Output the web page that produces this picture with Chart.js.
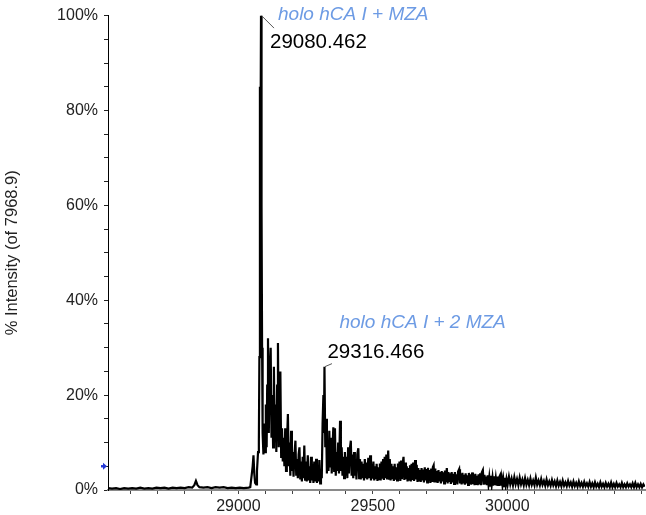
<!DOCTYPE html>
<html>
<head>
<meta charset="utf-8">
<script src="https://cdn.jsdelivr.net/npm/chart.js@4.4.1/dist/chart.umd.min.js"></script>
<style>
  html, body { margin: 0; padding: 0; background: #fff; }
  #wrap { width: 646px; height: 515px; }
</style>
</head>
<body>
<div id="wrap"><canvas id="spectrum" width="646" height="515"></canvas></div>
<script>
"use strict";

// ------------------------------------------------------- //
// Spectrum data  [m/z, % intensity]
// ------------------------------------------------------- //
var baselineRegion = [
    [28515,0.4],[28530,0.3],[28545,0.4],[28560,0.2],[28575,0.4],[28590,0.3],[28605,0.4],[28620,0.3],
    [28635,0.5],[28650,0.3],[28665,0.4],[28680,0.3],[28695,0.5],[28710,0.4],[28725,0.5],[28740,0.3],
    [28755,0.5],[28770,0.4],[28785,0.5],[28800,0.4],[28815,0.6],[28828,0.5],[28836,1.0],[28842,1.9],
    [28848,1.0],[28855,0.6],[28870,0.5],[28885,0.6],[28900,0.4],[28915,0.6],[28930,0.5],[28945,0.6],
    [28960,0.4],[28975,0.5],[28990,0.4],[29005,0.5],[29020,0.4],[29038,0.5]
];

var mainPeakRegion = [
    [29044,0.6],[29049,3.0],[29053,5.0],[29056,7.3],[29059,3.5],[29062,1.5],[29066,1.2],[29069,4.0],
    [29073,8.0],[29076,10.0],[29078,28],[29080,85],[29082,70],[29084,100],[29086,60],[29088,30],[29090,12]
];

var forestRegion = [
    [29093,7.5],[29096,14],[29099,8],[29102,18],[29105,9],[29107,22],[29110,32],[29113,12],
    [29116,24],[29120,30],[29123,11],[29126,20],[29129,9],[29132,26],[29135,10],[29138,18],
    [29141,8],[29144,22],[29147,31],[29150,9],[29153,14],[29156,25],[29159,7],[29162,13],
    [29165,6],[29168,11],[29171,5],[29174,13],[29177,4],[29180,9],[29184,16],[29187,5],
    [29190,10],[29193,3],[29196,12.5],[29199,4],[29202,8],[29205,2.8],[29208,7],[29212,10.4],
    [29215,3],[29218,6.5],[29221,2.5],[29224,7.5],[29227,9],[29230,2.2],[29233,6],[29236,1.8],
    [29239,7],[29242,2.5],[29245,9.4],[29248,2.2],[29251,6],[29254,1.8],[29258,7.3],[29261,2],
    [29264,5],[29267,1.5],[29270,7],[29273,2],[29276,5.5],[29279,1.5],[29282,6],[29285,1.8],
    [29289,6.6],[29292,1.5],[29295,5],[29298,1.8],[29301,6.3],[29304,1.4],[29307,4],[29310,2.5],
    [29313,14],[29316,20],[29318,12],[29320,26],[29323,9],[29326,15]
];

var tailRegion = [
    [29329,3.5],[29332,10],[29335,4],[29338,12.5],[29341,5],[29344,11],[29347,3.5],[29350,9],
    [29353,13.2],[29356,4],[29359,13],[29362,3],[29365,8],[29368,4],[29371,10],[29374,3.5],
    [29378,14.6],[29381,4],[29384,9],[29387,3],[29390,7],[29393,2.5],[29396,8],[29399,3],
    [29402,7],[29405,2.5],[29408,9],[29411,3.5],[29414,8.5],[29418,10.4],[29421,3],[29424,7.5],
    [29427,2.5],[29430,8],[29433,3],[29436,6.5],[29439,2.2],[29442,7.5],[29446,8.8],[29449,2.5],
    [29452,6.5],[29455,2.2],[29458,6],[29461,2.5],[29464,5.5],[29467,2],[29470,6.5],[29473,2.5],
    [29476,5.8],[29479,2.2],[29483,6.8],[29486,2.5],[29490,7.3],[29493,2],[29496,5.5],[29499,2.4],
    [29502,6],[29505,2],[29508,5],[29511,2.3],[29514,5.5],[29517,1.9],[29520,4.8],[29523,2.3],
    [29526,5.6],[29529,2],[29532,6],[29535,2.4],[29538,6.5],[29541,2.1],[29544,7],[29547,2.5],
    [29550,7.5],[29553,2.2],[29557,8.3],[29560,2.4],[29563,6.5],[29566,2],[29569,5.5],[29572,2.3],
    [29575,5],[29578,1.9],[29581,5.5],[29584,2.2],[29587,4.8],[29590,2],[29593,5.6],[29596,2.3],
    [29599,6],[29602,1.9],[29605,6.2],[29608,2.3],[29611,5.6],[29614,7],[29617,2.1],[29620,5.8],
    [29623,2.3],[29626,5],[29629,1.8],[29632,4.6],[29635,2.2],[29638,5.2],[29641,1.8],[29644,5.5],
    [29647,2.1],[29650,5.8],[29653,1.9],[29657,6.3],[29660,2.2],[29663,5.3],[29666,1.7],[29669,4.6],
    [29672,2],[29675,4.2],[29678,1.7],[29681,4.6],[29684,2],[29687,4.3],[29690,1.6],[29693,4.8],
    [29696,2],[29699,4.4],[29702,1.6],[29705,4.7],[29708,1.9],[29711,4.2],[29714,1.5],[29717,4.5],
    [29720,1.9],[29723,4.8],[29726,5.2],[29729,1.6],[29732,4.5],[29735,1.8],[29738,4],[29741,1.5],
    [29744,4.2],[29747,1.8],[29750,3.8],[29753,1.4],[29756,4],[29759,1.8],[29762,3.7],[29765,1.4],
    [29768,4.1],[29771,1.7],[29775,4.6],[29778,1.4],[29781,3.8],[29784,1.7],[29787,3.5],[29790,1.3],
    [29793,3.8],[29796,1.6],[29799,3.4],[29802,1.3],[29805,3.8],[29808,1.5],[29811,3.3],[29814,1.2],
    [29817,3.9],[29821,4.4],[29824,1.4],[29827,3.4],[29830,1.2],[29833,3.6],[29836,1.4],[29839,3.2],
    [29842,1.1],[29845,3.5],[29848,1.4],[29851,3.1],[29854,1.1],[29857,3.6],[29860,1.3],[29863,3.3],
    [29866,1.1],[29869,3.7],[29872,1.3],[29875,3.2],[29878,1.0],[29881,3.4],[29884,1.3],[29887,3.0],
    [29890,1.0],[29893,3.3],[29896,1.2],[29899,3.5],[29902,1.0],[29905,3.7],[29909,4.2],[29912,1.1],
    [29915,3.2],[29918,1.2],[29921,2.8],[29924,1.0],[29927,3.1],[29930,1.2],[29933,2.7],[29936,0.9],
    [29939,3.0],[29942,1.1],[29945,2.6],[29948,0.9],[29951,2.9],[29954,1.1],[29957,2.5],[29960,0.9],
    [29963,2.8],[29966,1.1],[29969,2.6],[29973,3.1],[29976,0.9],[29979,2.5],[29982,1.0],[29985,2.3],
    [29988,0.8],[29991,2.6],[29994,1.0],[29997,2.3],[30001,1.1],[30006,2.8],[30011,1.2],[30016,2.4],
    [30021,1.0],[30026,2.7],[30031,1.2],[30036,2.3],[30041,1.0],[30046,2.6],[30051,1.2],[30056,2.2],
    [30061,1.0],[30066,2.5],[30071,1.1],[30076,2.1],[30081,1.0],[30086,2.4],[30091,1.1],[30096,2.0],
    [30101,1.0],[30106,2.6],[30111,1.1],[30116,2.0],[30121,1.0],[30126,2.3],[30131,1.1],[30136,1.9],
    [30141,0.9],[30146,2.2],[30151,1.0],[30156,1.8],[30161,0.9],[30166,2.1],[30171,1.0],[30176,1.8],
    [30181,0.8],[30186,2.0],[30191,0.9],[30196,1.7],[30201,0.8],[30206,2.0],[30211,0.9],[30216,1.6],
    [30221,0.8],[30226,1.9],[30231,0.9],[30236,1.6],[30241,0.7],[30246,1.8],[30251,0.8],[30256,1.5],
    [30261,0.7],[30266,1.8],[30271,0.8],[30276,1.5],[30281,0.7],[30286,1.7],[30291,0.8],[30296,1.4],
    [30301,0.7],[30306,1.7],[30311,0.7],[30316,1.4],[30321,0.6],[30326,1.6],[30331,0.7],[30336,1.3],
    [30341,0.6],[30346,1.6],[30351,0.7],[30356,1.3],[30361,0.6],[30366,1.5],[30371,0.7],[30376,1.3],
    [30381,0.6],[30386,1.6],[30391,0.6],[30396,1.3],[30401,0.6],[30406,1.5],[30411,0.7],[30416,1.2],
    [30421,0.6],[30426,1.5],[30431,0.6],[30436,1.2],[30441,0.6],[30446,1.4],[30451,0.7],[30456,1.2],
    [30461,0.6],[30466,1.4],[30471,0.6],[30476,1.5],[30481,0.6],[30486,1.2],[30491,0.6],[30496,1.3],
    [30501,0.6],[30506,1.2],[30511,0.7]
];

var xTickLabels = [29000, 29500, 30000];
var yTickLabels = [0, 20, 40, 60, 80, 100];
var yTitle = "% Intensity (of 7968.9)";
var markerLevel = 5;   // blue arrow on the y axis

var peakLabels = [
    { mass: 29080.462, text: "29080.462", species: "holo hCA I + MZA" },
    { mass: 29316.466, text: "29316.466", species: "holo hCA I + 2 MZA" }
];

// ------------------------------------------------------- //
var spectrum = baselineRegion.concat(mainPeakRegion, forestRegion, tailRegion).map(function (p) {
    return { x: p[0], y: p[1] };
});

// tallest point close to a labelled mass
function apexNear(mass) {
    var best = null;
    spectrum.forEach(function (p) {
        if (Math.abs(p.x - mass) <= 8 && (!best || p.y > best.y)) best = p;
    });
    return best;
}

// label offsets from the peak apex, in px
var labelLayout = [
    { lead: [13, 12.5], num: [9, 32.5], name: [17, 4] },
    { lead: [7.5, -3], num: [3, -9], name: [15, -39] }
];

var FONT = '"Liberation Sans", Arial, Helvetica, sans-serif';
Chart.defaults.font.family = FONT;

var annotate = {
    id: "annotate",
    afterDraw: function (chart) {
        var ctx = chart.ctx, xs = chart.scales.x, ys = chart.scales.y;
        ctx.save();
        peakLabels.forEach(function (p, i) {
            var lay = labelLayout[i];
            var apex = apexNear(p.mass);
            var px = xs.getPixelForValue(apex.x);
            var py = ys.getPixelForValue(apex.y);
            ctx.strokeStyle = "#555";
            ctx.lineWidth = 1;
            ctx.beginPath();
            ctx.moveTo(px + 0.5, py);
            ctx.lineTo(px + lay.lead[0], py + lay.lead[1]);
            ctx.stroke();
            ctx.textBaseline = "alphabetic";
            ctx.textAlign = "left";
            ctx.fillStyle = "#000";
            ctx.font = "20.5px " + FONT;
            ctx.fillText(p.text, px + lay.num[0], py + lay.num[1]);
            ctx.fillStyle = "#6d9be4";
            ctx.font = "italic 19px " + FONT;
            ctx.fillText(p.species, px + lay.name[0], py + lay.name[1]);
        });

        // blue arrow marker
        var ay = ys.getPixelForValue(markerLevel);
        var ax = chart.chartArea.left;
        ctx.fillStyle = "#2438d6";
        ctx.beginPath();
        ctx.moveTo(ax - 1, ay);
        ctx.lineTo(ax - 5, ay - 3.5);
        ctx.lineTo(ax - 5, ay + 3.5);
        ctx.closePath();
        ctx.fill();
        ctx.fillRect(ax - 7, ay - 1.2, 3, 2.4);
        ctx.restore();
    }
};

var SPECTRUM = document.getElementById("spectrum");
var myChart = new Chart(SPECTRUM, {
    type: "line",
    data: {
        datasets: [
            {
                label: "spectrum",
                data: spectrum,
                borderColor: "#000",
                borderWidth: 2.2,
                pointRadius: 0,
                tension: 0,
                fill: false,
            },
        ],
    },
    options: {
        responsive: false,
        animation: false,
        layout: { padding: { top: 11, right: 1, bottom: 0, left: 0 } },
        plugins: {
            legend: { display: false },
            tooltip: { enabled: false },
        },
        scales: {
            x: {
                type: "linear",
                min: 28515,
                max: 30512,
                afterBuildTicks: function (scale) {
                    // minor tick every 100 Da
                    var ticks = [];
                    for (var v = Math.ceil(scale.min / 100) * 100; v <= scale.max; v += 100) {
                        ticks.push({ value: v });
                    }
                    scale.ticks = ticks;
                },
                afterFit: function (scale) {
                    scale.height = 25;
                    scale.paddingLeft = 0;
                    scale.paddingRight = 0;
                },
                grid: { drawOnChartArea: false, drawTicks: true, tickLength: 4, tickColor: "#444" },
                border: { color: "#8a8a8a", width: 2 },
                ticks: {
                    autoSkip: false,
                    maxRotation: 0,
                    padding: 3,
                    color: "#222",
                    font: { size: 16 },
                    callback: function (v) { return xTickLabels.indexOf(v) >= 0 ? String(v) : ""; },
                },
            },
            y: {
                min: 0,
                max: 100,
                afterFit: function (scale) { scale.width = 108; },
                grid: { drawOnChartArea: false, drawTicks: true, tickLength: 4, tickColor: "#222" },
                border: { color: "#000", width: 1 },
                title: {
                    display: true,
                    text: yTitle,
                    color: "#222",
                    font: { size: 16.5 },
                    padding: { top: 3, bottom: 3 },
                },
                ticks: {
                    stepSize: 5,
                    autoSkip: false,
                    padding: 6,
                    color: "#222",
                    font: { size: 16 },
                    callback: function (v) { return yTickLabels.indexOf(v) >= 0 ? v + "%" : ""; },
                },
            },
        },
    },
    plugins: [annotate],
});
</script>
</body>
</html>
